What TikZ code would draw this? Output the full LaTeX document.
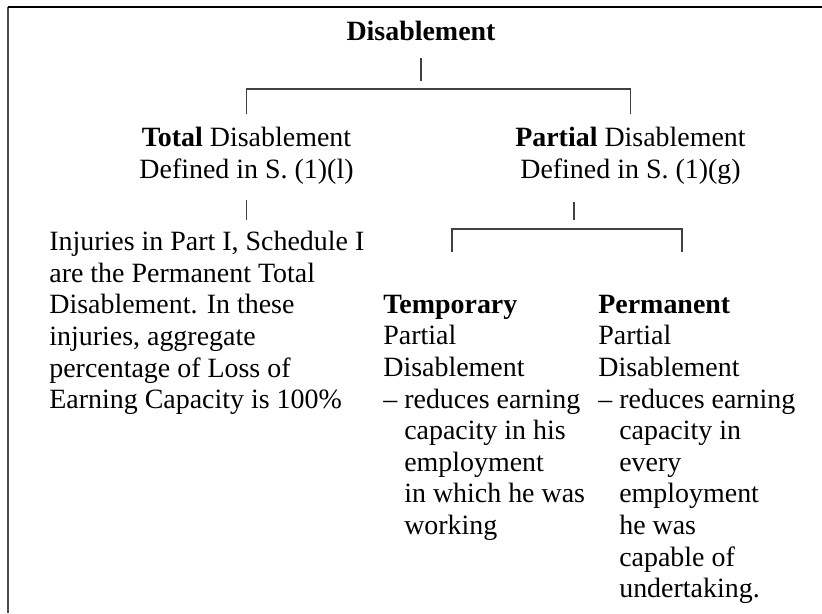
\documentclass[tikz,border=0pt]{standalone}
\usepackage{fontspec}
\setmainfont{Liberation Serif}
\newcommand{\dashgap}{\hphantom{--\ }}
\begin{document}
\begin{tikzpicture}[x=0.02cm,y=-0.02cm]
	\tikzstyle{txt}=[inner sep=0pt,font=\fontsize{15.9}{18}\selectfont]
	\tikzstyle{head}=[txt,align=center,anchor=north]
	\tikzstyle{block}=[txt,align=left,anchor=north west]
	\tikzstyle{link}=[draw=black!75,line width=0.6pt]
	\useasboundingbox (0,0) rectangle (822,613);
	% frame: only top and left edges show
	\draw[line width=1.1pt,black!70] (8,613) -- (8,7);
	\draw[line width=1.1pt] (7.5,7) -- (822,7);
	\node[txt,anchor=base](root) at (421,40) {\textbf{Disablement}};
	\node[head](total) at (246.5,127) {\textbf{Total} Disablement\\Defined in S. (1)(l)};
	\node[head](partial) at (630.5,127) {\textbf{Partial} Disablement\\Defined in S. (1)(g)};
	\node[block](injury) at (49,231) {Injuries in Part I, Schedule I\\are the Permanent Total\\Disablement. In these\\injuries, aggregate\\percentage of Loss of\\Earning Capacity is 100\%};
	\node[block](temp) at (383,294.5) {\textbf{Temporary}\\Partial\\Disablement\\-- reduces earning\\\dashgap capacity in his\\\dashgap employment\\\dashgap in which he was\\\dashgap working};
	\node[block](perm) at (598,294.5) {\textbf{Permanent}\\Partial\\Disablement\\-- reduces earning\\\dashgap capacity in\\\dashgap every\\\dashgap employment\\\dashgap he was\\\dashgap capable of\\\dashgap undertaking.};
	\coordinate (pfork) at (574,202);
	\coordinate (tfork) at (452,252);
	\coordinate (qfork) at (682,252);
	\draw[link] (root |- 0,58) -- (root |- 0,81);
	\draw[link] (total |- 0,114) |- (partial |- 0,89) -- (partial |- 0,114);
	\draw[link] (total |- 0,200) -- (total |- 0,220);
	\draw[link] (pfork) -- ++(0,18);
	\draw[link] (tfork) |- (qfork |- 0,229) -- (qfork);
\end{tikzpicture}
\end{document}
